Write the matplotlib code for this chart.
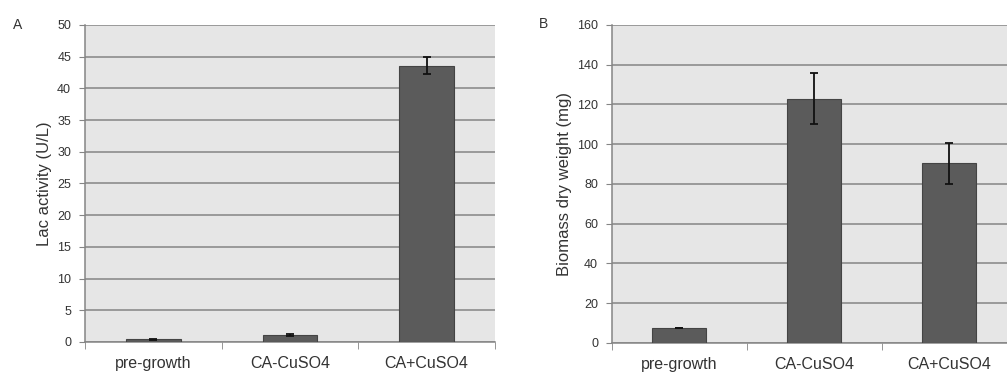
import matplotlib
matplotlib.use("Agg")
import matplotlib.pyplot as plt
import numpy as np

categories = ["pre-growth", "CA-CuSO4", "CA+CuSO4"]
lac_activity = [0.4, 1.1, 43.6]
lac_err = [0.02, 0.1, 1.4]
biomass = [7.6, 123.0, 90.5]
biomass_err = [0.1, 13.0, 10.3]
lac_ticks = [0, 5, 10, 15, 20, 25, 30, 35, 40, 45, 50]
bio_ticks = [0, 20, 40, 60, 80, 100, 120, 140, 160]

plt.rcParams['font.family'] = ['Liberation Sans', 'DejaVu Sans']

fig = plt.figure(figsize=(10.07, 3.74), dpi=100)
fig.patch.set_facecolor('white')

BG = '#e6e6e6'
GRID = '#858585'
BAR = '#5b5b5b'
EDGE = '#444444'
TXT = '#333333'

def style(ax, vals, errs, ticks, ylabel):
    x = np.arange(len(categories))
    ax.set_facecolor(BG)
    ax.bar(x, vals, width=0.4, color=BAR, edgecolor=EDGE, linewidth=0.8, zorder=3)
    ax.errorbar(x, vals, yerr=errs, fmt='none', ecolor='#111111', elinewidth=1.3,
                capsize=3, capthick=1.3, zorder=4)
    ax.set_xlim(-0.5, len(categories) - 0.5)
    ax.set_ylim(ticks[0], ticks[-1])
    ax.set_yticks(ticks)
    ax.set_yticklabels([str(t) for t in ticks])
    ax.yaxis.grid(True, color=GRID, linewidth=1.1, zorder=1)
    ax.set_axisbelow(True)
    ax.set_xticks(x)
    ax.set_xticklabels(categories)
    ax.set_xticks(np.arange(-0.5, len(categories), 1.0), minor=True)
    ax.tick_params(axis='x', which='major', length=0, labelsize=11.5, colors=TXT, pad=10)
    ax.tick_params(axis='x', which='minor', length=5, color=GRID, direction='out')
    ax.tick_params(axis='y', length=4, color=GRID, direction='out', labelsize=9, colors=TXT, pad=6)
    for s in ['top', 'right']:
        ax.spines[s].set_visible(False)
    for s in ['left', 'bottom']:
        ax.spines[s].set_color(GRID)
        ax.spines[s].set_linewidth(1.1)
    ax.set_ylabel(ylabel, fontsize=12, color=TXT, labelpad=4)

ax1 = fig.add_axes([0.0844, 0.0856, 0.407, 0.8476])
style(ax1, lac_activity, lac_err, lac_ticks, "Lac activity (U/L)")

ax2 = fig.add_axes([0.6077, 0.0829, 0.4022, 0.8503])
style(ax2, biomass, biomass_err, bio_ticks, "Biomass dry weight (mg)")

fig.text(13/1007, 1 - 25/374, "A", fontsize=10, color=TXT, va='center', ha='left')
fig.text(539/1007, 1 - 24/374, "B", fontsize=10, color=TXT, va='center', ha='left')

fig.savefig("out.png", dpi=100, facecolor='white')
